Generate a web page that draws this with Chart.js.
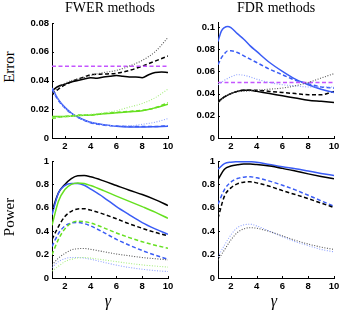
<!DOCTYPE html>
<html>
<head>
<meta charset="utf-8">
<script src="https://cdn.jsdelivr.net/npm/chart.js@4.4.1/dist/chart.umd.min.js"></script>
<style>
  html, body { margin: 0; padding: 0; background: #fff; }
  #wrap { position: relative; width: 343px; height: 310px; overflow: hidden; background: #fff; }
  canvas { position: absolute; }
  .t { position: absolute; font-family: "Liberation Serif", "Times New Roman", serif; color: #000; white-space: nowrap; line-height: 1; }
  .title { font-size: 14px; transform: translateX(-50%); }
  .ylab { font-size: 15px; transform: translate(-50%, -50%) rotate(-90deg); }
  .xlab { font-size: 16px; font-style: italic; transform: translate(-50%, -50%); }
</style>
</head>
<body>
<div id="wrap">
  <canvas id="c1"></canvas>
  <canvas id="c2"></canvas>
  <canvas id="c3"></canvas>
  <canvas id="c4"></canvas>
  <div class="t title" style="left:110px; top:1px;">FWER methods</div>
  <div class="t title" style="left:276px; top:1px;">FDR methods</div>
  <div class="t ylab" style="left:9px; top:67px;">Error</div>
  <div class="t ylab" style="left:9px; top:217px;">Power</div>
  <div class="t xlab" style="left:108px; top:301px;">γ</div>
  <div class="t xlab" style="left:274px; top:301px;">γ</div>
</div>
<script>
// ---------- data ----------
const gamma = [1, 1.5, 2, 2.5, 3, 3.5, 4, 5, 6, 7, 8, 9, 10];
const gammaFine = [1, 1.5, 2, 2.5, 3, 3.5, 4, 4.5, 5, 5.5, 6, 6.5, 7, 7.5, 8, 8.5, 9, 9.5, 10];
const gammaPeak = [1, 1.25, 1.5, 1.75, 2, 2.5, 3, 3.5, 4, 5, 6, 7, 8, 9, 10];
const alphaX = [1, 10];
const alphaY = [0.05, 0.05];

const xTicks = [2, 4, 6, 8, 10];
const yTicksFwerErr = [0, 0.02, 0.04, 0.06, 0.08];
const yTicksFdrErr = [0, 0.02, 0.04, 0.06, 0.08, 0.1];
const yTicksPower = [0, 0.2, 0.4, 0.6, 0.8, 1];

// FWER error
const fwerErrBlackSolid = [0.033, 0.036, 0.0375, 0.039, 0.040, 0.041, 0.042, 0.0415, 0.0425, 0.043, 0.0435, 0.043, 0.0425, 0.0425, 0.042, 0.044, 0.0455, 0.046, 0.0455];
const fwerErrBlackDash  = [0.030, 0.034, 0.037, 0.039, 0.041, 0.0425, 0.044, 0.0445, 0.045, 0.047, 0.050, 0.0535, 0.057];
const fwerErrBlackDot   = [0.031, 0.035, 0.038, 0.040, 0.041, 0.042, 0.0435, 0.0455, 0.047, 0.050, 0.054, 0.060, 0.070];
const fwerErrBlueSolid  = [0.0348, 0.0267, 0.0213, 0.0174, 0.0146, 0.0125, 0.0109, 0.0093, 0.0081, 0.0077, 0.0077, 0.0079, 0.0081];
const fwerErrBlueDash   = [0.034, 0.026, 0.021, 0.017, 0.0143, 0.0123, 0.0106, 0.009, 0.0083, 0.008, 0.008, 0.008, 0.0085];
const fwerErrBlueDot    = [0.0345, 0.0265, 0.021, 0.0172, 0.0145, 0.0125, 0.011, 0.0093, 0.0085, 0.0085, 0.0095, 0.011, 0.0135];
const fwerErrGreenSolid = [0.015, 0.015, 0.015, 0.0152, 0.0155, 0.0158, 0.016, 0.0168, 0.0175, 0.0182, 0.019, 0.021, 0.0235];
const fwerErrGreenDash  = [0.0135, 0.0145, 0.015, 0.0155, 0.016, 0.016, 0.016, 0.017, 0.0178, 0.0185, 0.0193, 0.021, 0.0245];
const fwerErrGreenDot   = [0.014, 0.0145, 0.0148, 0.015, 0.0155, 0.016, 0.0165, 0.0175, 0.019, 0.0215, 0.024, 0.028, 0.034];

// FDR error
const fdrErrBlueSolid  = [0.087, 0.096, 0.0995, 0.1005, 0.0995, 0.094, 0.089, 0.083, 0.078, 0.068, 0.060, 0.053, 0.048, 0.044, 0.041];
const fdrErrBlueDash   = [0.066, 0.072, 0.076, 0.0785, 0.0785, 0.077, 0.074, 0.071, 0.068, 0.062, 0.057, 0.052, 0.049, 0.046, 0.045];
const fdrErrBlueDot    = [0.048, 0.052, 0.055, 0.057, 0.0565, 0.055, 0.053, 0.050, 0.048, 0.047, 0.046, 0.046, 0.046];
const fdrErrBlackSolid = [0.033, 0.037, 0.040, 0.042, 0.043, 0.043, 0.042, 0.040, 0.038, 0.036, 0.034, 0.033, 0.032];
const fdrErrBlackDash  = [0.032, 0.037, 0.040, 0.042, 0.043, 0.043, 0.043, 0.042, 0.041, 0.040, 0.039, 0.039, 0.042];
const fdrErrBlackDot   = [0.032, 0.037, 0.040, 0.0415, 0.042, 0.0425, 0.043, 0.044, 0.045, 0.047, 0.050, 0.054, 0.058];

// FWER power
const fwerPowBlackSolid = [0.57, 0.727, 0.80, 0.85, 0.874, 0.876, 0.865, 0.83, 0.79, 0.75, 0.713, 0.67, 0.62];
const fwerPowGreenSolid = [0.45, 0.655, 0.756, 0.80, 0.813, 0.807, 0.79, 0.747, 0.70, 0.655, 0.61, 0.563, 0.51];
const fwerPowBlueSolid  = [0.54, 0.727, 0.79, 0.807, 0.807, 0.793, 0.76, 0.69, 0.61, 0.54, 0.474, 0.42, 0.373];
const fwerPowBlackDash  = [0.33, 0.44, 0.526, 0.57, 0.59, 0.592, 0.58, 0.546, 0.506, 0.463, 0.425, 0.39, 0.36];
const fwerPowGreenDash  = [0.20, 0.33, 0.42, 0.47, 0.485, 0.482, 0.47, 0.43, 0.385, 0.345, 0.31, 0.28, 0.255];
const fwerPowBlueDash   = [0.27, 0.38, 0.445, 0.47, 0.475, 0.465, 0.445, 0.39, 0.33, 0.28, 0.235, 0.195, 0.16];
const fwerPowBlackDot   = [0.11, 0.17, 0.21, 0.24, 0.25, 0.252, 0.245, 0.225, 0.205, 0.19, 0.175, 0.165, 0.155];
const fwerPowGreenDot   = [0.06, 0.10, 0.14, 0.16, 0.172, 0.175, 0.17, 0.155, 0.14, 0.125, 0.112, 0.102, 0.093];
const fwerPowBlueDot    = [0.09, 0.14, 0.165, 0.175, 0.175, 0.17, 0.16, 0.135, 0.11, 0.09, 0.075, 0.063, 0.055];

// FDR power
const fdrPowBlueSolid  = [0.93, 0.977, 0.99, 0.993, 0.994, 0.993, 0.99, 0.97, 0.95, 0.934, 0.914, 0.894, 0.876];
const fdrPowBlackSolid = [0.84, 0.93, 0.957, 0.968, 0.974, 0.974, 0.97, 0.957, 0.937, 0.914, 0.89, 0.868, 0.848];
const fdrPowBlueDash   = [0.63, 0.756, 0.82, 0.85, 0.862, 0.865, 0.856, 0.828, 0.793, 0.753, 0.707, 0.66, 0.612];
const fdrPowBlackDash  = [0.51, 0.70, 0.77, 0.805, 0.819, 0.822, 0.813, 0.784, 0.747, 0.713, 0.678, 0.64, 0.603];
const fdrPowBlueDot    = [0.18, 0.28, 0.368, 0.43, 0.454, 0.46, 0.445, 0.40, 0.353, 0.31, 0.276, 0.244, 0.224];
const fdrPowBlackDot   = [0.152, 0.24, 0.325, 0.388, 0.42, 0.43, 0.425, 0.397, 0.36, 0.322, 0.29, 0.264, 0.244];

// ---------- styles ----------
const C = {
  black: '#000000', blackDot: '#555555',
  blue: '#3a5cf5', blueDot: '#8fa2ff',
  green: '#66e020', greenDot: '#a8ee80',
  alpha: '#c455ff'
};
const STY = {
  solid: { borderWidth: 1.5, borderDash: [] },
  dash:  { borderWidth: 1.5, borderDash: [4, 2.5] },
  dot:   { borderWidth: 1.1, borderDash: [1, 1.6] }
};

function ds(xs, ys, color, kind) {
  return Object.assign({
    data: xs.map((x, i) => ({ x: x, y: ys[i] })),
    borderColor: color, backgroundColor: color,
    pointRadius: 0, fill: false, cubicInterpolationMode: 'monotone'
  }, STY[kind]);
}

function fmt(v) { return String(parseFloat(v.toFixed(3))); }

const inwardTicks = {
  id: 'inwardTicks',
  afterDatasetsDraw(chart) {
    const ctx = chart.ctx, xs = chart.scales.x, ys = chart.scales.y, a = chart.chartArea;
    ctx.save();
    ctx.strokeStyle = '#000'; ctx.lineWidth = 1;
    ctx.beginPath();
    xs.ticks.forEach(t => { const p = Math.round(xs.getPixelForValue(t.value)) + 0.5; ctx.moveTo(p, a.bottom); ctx.lineTo(p, a.bottom - 2); });
    ys.ticks.forEach(t => { const p = Math.round(ys.getPixelForValue(t.value)) + 0.5; ctx.moveTo(a.left, p); ctx.lineTo(a.left + 2, p); });
    ctx.stroke();
    ctx.restore();
  }
};

function makeChart(id, box, yMax, yTicks, datasets) {
  const cv = document.getElementById(id);
  cv.style.left = box.cL + 'px'; cv.style.top = box.cT + 'px';
  cv.style.width = box.cW + 'px'; cv.style.height = box.cH + 'px';
  cv.width = box.cW; cv.height = box.cH;
  const tickFont = { family: '"Liberation Sans", Arial, sans-serif', size: 9.5, weight: 'bold' };
  return new Chart(cv, {
    type: 'line',
    data: { datasets: datasets },
    options: {
      responsive: false, animation: false, devicePixelRatio: 1,
      layout: { padding: { left: 0, top: box.pT, right: box.pR, bottom: 0 } },
      plugins: { legend: { display: false }, tooltip: { enabled: false }, title: { display: false } },
      scales: {
        x: {
          type: 'linear', min: 1, max: 10,
          afterBuildTicks: s => { s.ticks = xTicks.map(v => ({ value: v })); },
          afterFit: s => { s.height = box.xH; },
          grid: { display: true, drawOnChartArea: false, drawTicks: false },
          border: { display: true, color: '#000', width: 1 },
          ticks: { color: '#000', font: tickFont, padding: 3, maxRotation: 0, autoSkip: false, callback: v => fmt(v) }
        },
        y: {
          type: 'linear', min: 0, max: yMax,
          afterBuildTicks: s => { s.ticks = yTicks.map(v => ({ value: v })); },
          afterFit: s => { s.width = box.yW; },
          grid: { display: true, drawOnChartArea: false, drawTicks: false },
          border: { display: true, color: '#000', width: 1 },
          ticks: { color: '#000', font: tickFont, padding: 3, autoSkip: false, callback: v => fmt(v) }
        }
      }
    },
    plugins: [inwardTicks]
  });
}

// Top-left: FWER error
makeChart('c1', { cL: 20, cT: 13, cW: 158, cH: 139, pT: 10, pR: 10, yW: 32, xH: 14 }, 0.08, yTicksFwerErr, [
  ds(gamma, fwerErrBlackDot, C.blackDot, 'dot'),
  ds(gamma, fwerErrGreenDot, C.greenDot, 'dot'),
  ds(gamma, fwerErrBlueDot, C.blueDot, 'dot'),
  ds(alphaX, alphaY, C.alpha, 'dash'),
  ds(gamma, fwerErrGreenDash, C.green, 'dash'),
  ds(gamma, fwerErrGreenSolid, C.green, 'solid'),
  ds(gamma, fwerErrBlueDash, C.blue, 'dash'),
  ds(gamma, fwerErrBlueSolid, C.blue, 'solid'),
  ds(gamma, fwerErrBlackDash, C.black, 'dash'),
  ds(gammaFine, fwerErrBlackSolid, C.black, 'solid')
]);

// Top-right: FDR error
makeChart('c2', { cL: 186, cT: 12, cW: 157, cH: 140, pT: 10, pR: 9, yW: 32, xH: 14 }, 0.1045, yTicksFdrErr, [
  ds(gamma, fdrErrBlackDot, C.blackDot, 'dot'),
  ds(gamma, fdrErrBlueDot, C.blueDot, 'dot'),
  ds(alphaX, alphaY, C.alpha, 'dash'),
  ds(gammaPeak, fdrErrBlueDash, C.blue, 'dash'),
  ds(gammaPeak, fdrErrBlueSolid, C.blue, 'solid'),
  ds(gamma, fdrErrBlackDash, C.black, 'dash'),
  ds(gamma, fdrErrBlackSolid, C.black, 'solid')
]);

// Bottom-left: FWER power
makeChart('c3', { cL: 20, cT: 151, cW: 158, cH: 141, pT: 10, pR: 10, yW: 32, xH: 14 }, 1, yTicksPower, [
  ds(gamma, fwerPowBlackDot, C.blackDot, 'dot'),
  ds(gamma, fwerPowGreenDot, C.greenDot, 'dot'),
  ds(gamma, fwerPowBlueDot, C.blueDot, 'dot'),
  ds(gamma, fwerPowGreenDash, C.green, 'dash'),
  ds(gamma, fwerPowBlueDash, C.blue, 'dash'),
  ds(gamma, fwerPowBlackDash, C.black, 'dash'),
  ds(gamma, fwerPowGreenSolid, C.green, 'solid'),
  ds(gamma, fwerPowBlueSolid, C.blue, 'solid'),
  ds(gamma, fwerPowBlackSolid, C.black, 'solid')
]);

// Bottom-right: FDR power
makeChart('c4', { cL: 186, cT: 151, cW: 157, cH: 141, pT: 10, pR: 9, yW: 32, xH: 14 }, 1, yTicksPower, [
  ds(gamma, fdrPowBlackDot, C.blackDot, 'dot'),
  ds(gamma, fdrPowBlueDot, C.blueDot, 'dot'),
  ds(gamma, fdrPowBlackDash, C.black, 'dash'),
  ds(gamma, fdrPowBlueDash, C.blue, 'dash'),
  ds(gamma, fdrPowBlackSolid, C.black, 'solid'),
  ds(gamma, fdrPowBlueSolid, C.blue, 'solid')
]);
</script>
</body>
</html>
